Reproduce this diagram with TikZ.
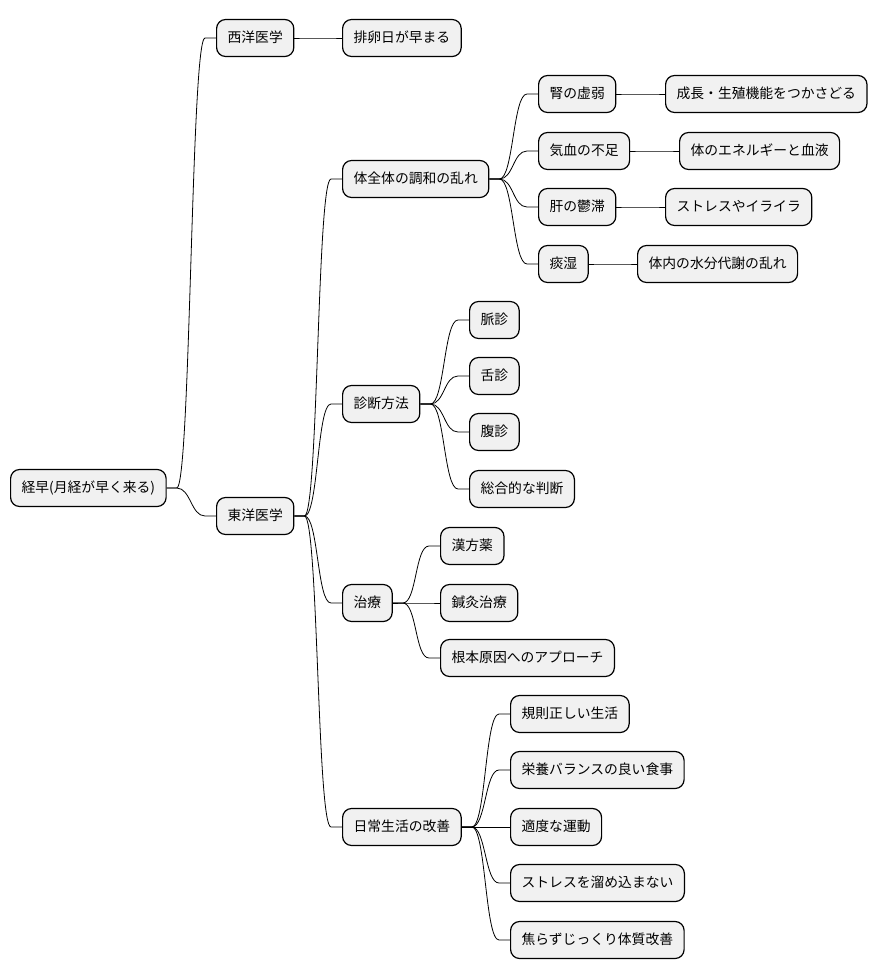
\documentclass[tikz,border=0pt]{standalone}
\usepackage{fontspec}
\setmainfont{Noto Sans CJK JP}
\usetikzlibrary{calc}
\definecolor{boxgray}{HTML}{F1F1F1}
\begin{document}
\begin{tikzpicture}[x=1pt,y=1pt,
  box/.style={draw=black, line width=1.2pt, fill=boxgray, rounded corners=9pt,
    minimum height=37pt, inner xsep=11pt, anchor=west,
    font=\fontsize{13.8}{16}\selectfont, text height=11pt, text depth=2pt},
  edge/.style={line width=0.8pt, to path={-- ++(10pt,0) .. controls +(14pt,0) and ($(\tikztotarget)+(-25pt,0)$) .. ($(\tikztotarget)+(-11pt,0)$) -- (\tikztotarget)}}
]
\useasboundingbox (0,0) rectangle (877,-978);

% nodes
\node[box] (root) at (10,-488) {経早(月経が早く来る)};
\node[box] (west) at (216,-38) {西洋医学};
\node[box] (east) at (216,-516) {東洋医学};
\node[box] (w1) at (342,-38) {排卵日が早まる};

\node[box] (e1) at (342,-179) {体全体の調和の乱れ};
\node[box] (e11) at (538,-94) {腎の虚弱};
\node[box] (e111) at (665,-94) {成長・生殖機能をつかさどる};
\node[box] (e12) at (538,-151) {気血の不足};
\node[box] (e121) at (679,-151) {体のエネルギーと血液};
\node[box] (e13) at (538,-207) {肝の鬱滞};
\node[box] (e131) at (665,-207) {ストレスやイライラ};
\node[box] (e14) at (538,-264) {痰湿};
\node[box] (e141) at (637,-264) {体内の水分代謝の乱れ};

\node[box] (e2) at (342,-404) {診断方法};
\node[box] (e21) at (469,-320) {脈診};
\node[box] (e22) at (469,-376) {舌診};
\node[box] (e23) at (469,-432) {腹診};
\node[box] (e24) at (469,-489) {総合的な判断};

\node[box] (e3) at (342,-603) {治療};
\node[box] (e31) at (440,-546) {漢方薬};
\node[box] (e32) at (440,-603) {鍼灸治療};
\node[box] (e33) at (440,-658) {根本原因へのアプローチ};

\node[box] (e4) at (342,-827) {日常生活の改善};
\node[box] (e41) at (510,-714) {規則正しい生活};
\node[box] (e42) at (510,-770) {栄養バランスの良い食事};
\node[box] (e43) at (510,-827) {適度な運動};
\node[box] (e44) at (510,-883) {ストレスを溜め込まない};
\node[box] (e45) at (510,-940) {焦らずじっくり体質改善};

% connectors
\foreach \a/\b in {root/west, root/east, west/w1,
  east/e1, east/e2, east/e3, east/e4,
  e1/e11, e1/e12, e1/e13, e1/e14,
  e11/e111, e12/e121, e13/e131, e14/e141,
  e2/e21, e2/e22, e2/e23, e2/e24,
  e3/e31, e3/e32, e3/e33,
  e4/e41, e4/e42, e4/e43, e4/e44, e4/e45}
  \draw[edge] (\a.east) to (\b.west);
\end{tikzpicture}
\end{document}
